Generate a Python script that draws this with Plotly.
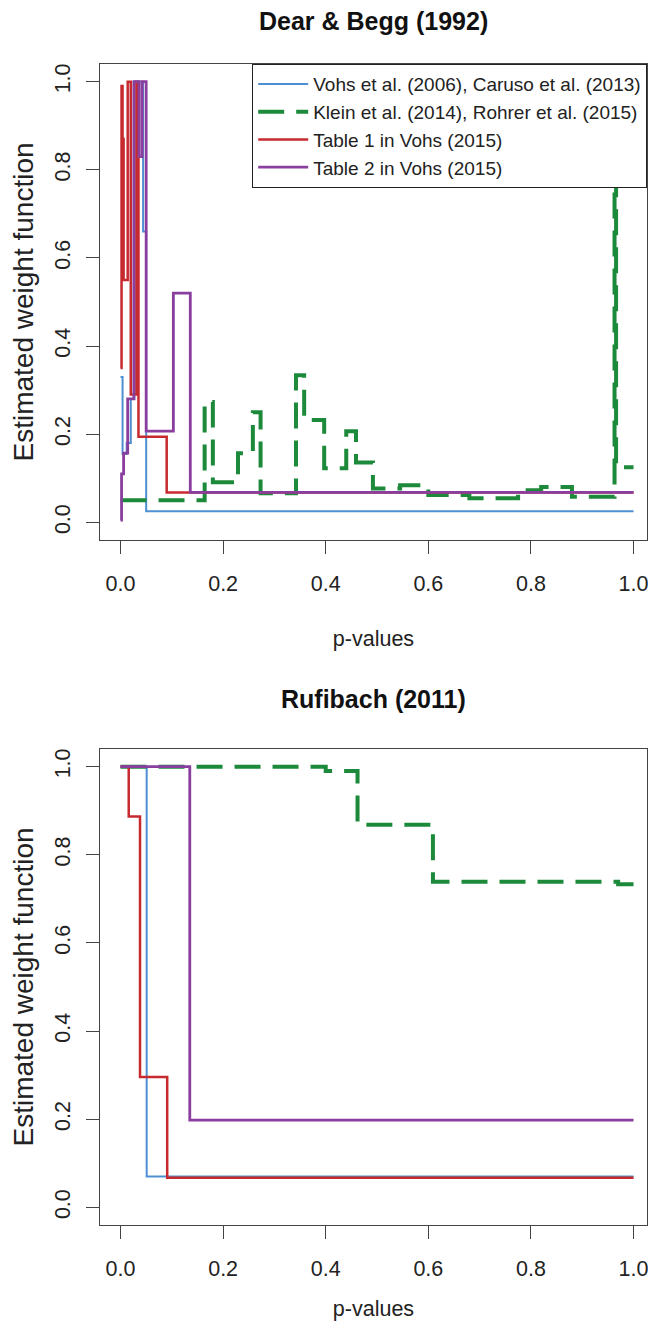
import plotly.graph_objects as go

# ---------------- data ----------------
series_names = [
    "Vohs et al. (2006), Caruso et al. (2013)",
    "Klein et al. (2014), Rohrer et al. (2015)",
    "Table 1 in Vohs (2015)",
    "Table 2 in Vohs (2015)",
]

# Dear & Begg (1992) - step functions (breakpoints, value on the interval starting there)
db_blue_x = [0, 0.004, 0.012, 0.02, 0.027, 0.044, 0.05, 1.0]
db_blue_y = [0.33, 0.155, 0.18, 0.28, 1.0, 0.66, 0.025, 0.025]

db_green_x = [0, 0.164, 0.18, 0.229, 0.258, 0.273, 0.342, 0.358, 0.397, 0.44, 0.459,
              0.492, 0.545, 0.6, 0.68, 0.775, 0.82, 0.88, 0.963, 0.966, 1.0]
db_green_y = [0.05, 0.273, 0.091, 0.157, 0.25, 0.066, 0.334, 0.232, 0.123, 0.207, 0.136,
              0.077, 0.084, 0.062, 0.055, 0.073, 0.08, 0.058, 1.0, 0.125, 0.125]

db_red_x = [0, 0.002, 0.004, 0.006, 0.014, 0.02, 0.031, 0.035, 0.09, 1.0]
db_red_y = [0.35, 0.99, 0.87, 0.55, 1.0, 0.29, 1.0, 0.194, 0.068, 0.068]

db_purple_x = [0, 0.002, 0.006, 0.014, 0.026, 0.036, 0.042, 0.05, 0.103, 0.136, 1.0]
db_purple_y = [0.005, 0.11, 0.157, 0.28, 1.0, 0.83, 1.0, 0.207, 0.52, 0.068, 0.068]

# Rufibach (2011)
rb_blue_x = [0, 0.051, 1.0]
rb_blue_y = [1.0, 0.07, 0.07]

rb_green_x = [0, 0.4, 0.462, 0.609, 0.97, 1.0]
rb_green_y = [1.0, 0.99, 0.868, 0.739, 0.733, 0.733]

rb_red_x = [0, 0.016, 0.038, 0.091, 1.0]
rb_red_y = [1.0, 0.887, 0.296, 0.067, 0.067]

rb_purple_x = [0, 0.135, 1.0]
rb_purple_y = [1.0, 0.198, 0.198]

tick_vals = [0.0, 0.2, 0.4, 0.6, 0.8, 1.0]
tick_text = ["0.0", "0.2", "0.4", "0.6", "0.8", "1.0"]

panel_titles = ["Dear & Begg (1992)", "Rufibach (2011)"]
x_title = "p-values"
y_title = "Estimated weight function"

# ---------------- styling / layout ----------------
colors = ["#4E8FD2", "#1C8A3A", "#C62A2F", "#8A3E9E"]
widths = [2, 4, 2.5, 2.8]
dashes = ["solid", "26px,12px", "solid", "solid"]
FONT = "Liberation Sans, Arial, Helvetica, sans-serif"

OFF = 8                       # default body margin of the page
PAGE_W, PAGE_H = 656, 1329
W, H = PAGE_W - 2 * OFF, PAGE_H - 2 * OFF

# boxes in page pixel coordinates
px_left, px_right = 100, 647
top_box = (64, 540)
bot_box = (749, 1225)
PX_PER_UNIT = 513.0
x_lo = -0.04
x_hi = x_lo + (px_right - px_left) / PX_PER_UNIT


def fx(px):
    return (px - OFF) / W


def fy(py):
    return (H - (py - OFF)) / H


def ydom(box):
    return [fy(box[1]), fy(box[0])]


fig = go.Figure()

db = [(db_blue_x, db_blue_y), (db_green_x, db_green_y), (db_red_x, db_red_y), (db_purple_x, db_purple_y)]
rb = [(rb_blue_x, rb_blue_y), (rb_green_x, rb_green_y), (rb_red_x, rb_red_y), (rb_purple_x, rb_purple_y)]

for i, (xs, ys) in enumerate(db):
    fig.add_trace(go.Scatter(
        x=xs, y=ys, mode="lines", name=series_names[i],
        line=dict(color=colors[i], width=widths[i], dash=dashes[i], shape="hv"),
        xaxis="x", yaxis="y", legendrank=i + 1,
    ))
for i, (xs, ys) in enumerate(rb):
    fig.add_trace(go.Scatter(
        x=xs, y=ys, mode="lines", name=series_names[i], showlegend=False,
        line=dict(color=colors[i], width=widths[i], dash=dashes[i], shape="hv"),
        xaxis="x2", yaxis="y2",
    ))

axis_common = dict(
    tickmode="array", tickvals=tick_vals, ticktext=tick_text,
    showgrid=False, zeroline=False, showline=True, mirror=True,
    linecolor="#444444", linewidth=1.2, ticks="outside", ticklen=13,
    tickcolor="#444444", tickwidth=1.2,
    tickfont=dict(family=FONT, size=21.5, color="#222222"),
    ticklabeloverflow="allow",
    automargin=False,
)
xaxis_extra = dict(range=[x_lo, x_hi], ticklabelstandoff=11,
                   title=dict(text=x_title, font=dict(size=21.5, family=FONT), standoff=36))
yaxis_extra = dict(range=[-0.04, 1.04], tickangle=-90, ticklabelstandoff=7,
                   title=dict(text=y_title, font=dict(size=28, family=FONT), standoff=27))

xdom = [fx(px_left), fx(px_right)]

fig.update_layout(
    width=W, height=H,
    margin=dict(l=0, r=0, t=0, b=0),
    paper_bgcolor="white", plot_bgcolor="white",
    font=dict(family=FONT, color="#222222"),
    xaxis=dict(axis_common, domain=xdom, anchor="y", **xaxis_extra),
    yaxis=dict(axis_common, domain=ydom(top_box), anchor="x", **yaxis_extra),
    xaxis2=dict(axis_common, domain=xdom, anchor="y2", **xaxis_extra),
    yaxis2=dict(axis_common, domain=ydom(bot_box), anchor="x2", **yaxis_extra),
    legend=dict(
        x=fx(px_right), y=fy(top_box[0]), xanchor="right", yanchor="top",
        xref="paper", yref="paper",
        bgcolor="white", bordercolor="#222222", borderwidth=1.2,
        font=dict(family=FONT, size=19, color="#222222"),
        tracegroupgap=0, itemwidth=50,
    ),
    showlegend=True,
)

cx = fx((px_left + px_right) / 2)
fig.add_annotation(text="<b>" + panel_titles[0] + "</b>", x=cx, y=fy(21),
                   xref="paper", yref="paper", showarrow=False, xanchor="center", yanchor="middle",
                   font=dict(family=FONT, size=25, color="#111111"))
fig.add_annotation(text="<b>" + panel_titles[1] + "</b>", x=cx, y=fy(699),
                   xref="paper", yref="paper", showarrow=False, xanchor="center", yanchor="middle",
                   font=dict(family=FONT, size=25, color="#111111"))

fig.write_html("out.html")
